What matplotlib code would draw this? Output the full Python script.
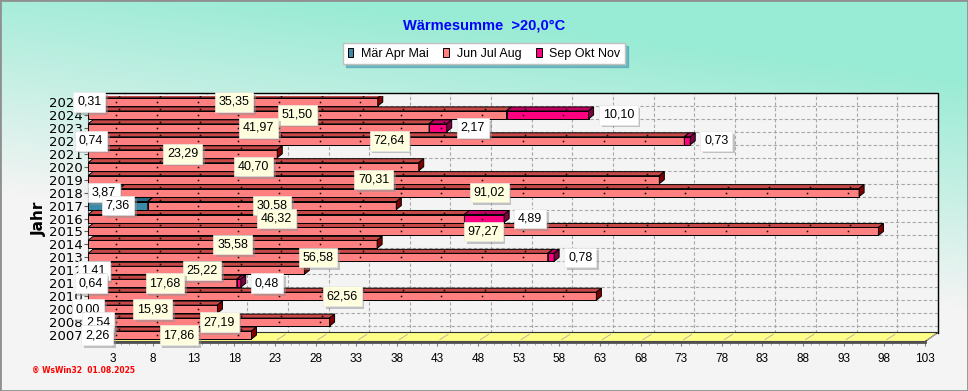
import numpy as np
import matplotlib.pyplot as plt
from matplotlib.patches import Rectangle, Polygon, Patch
from matplotlib import patheffects as pe

years = list(range(2007, 2026))
spring = [2.26, 2.54, 0.00, None, 0.64, 1.41, None, None, None, None,
          7.36, 3.87, None, None, None, 0.74, None, None, 0.31]
summer = [17.86, 27.19, 15.93, 62.56, 17.68, 25.22, 56.58, 35.58, 97.27, 46.32,
          30.58, 91.02, 70.31, 40.70, 23.29, 72.64, 41.97, 51.50, 35.35]
autumn = [None, None, None, None, 0.48, None, 0.78, None, None, 4.89,
          None, None, None, None, None, 0.73, 2.17, 10.10, None]
series_names = ["Mär Apr Mai", "Jun Jul Aug", "Sep Okt Nov"]
xticks = list(range(3, 104, 5))

# front, top, side colours of the 3d bars
cols = [("#3C8AA8", "#2A6480", "#1E4A60"),
        ("#FF8080", "#C84848", "#800000"),
        ("#FF0080", "#C00060", "#800040")]

W, H = 968, 391
fig = plt.figure(figsize=(W / 100, H / 100), dpi=100)

# background gradient
bg = fig.add_axes([0, 0, 1, 1], zorder=-10)
yy, xx = np.mgrid[0:H, 0:W]
t = np.clip((yy + (W / 2 - xx) * 0.12 - 20) / 230, 0, 1)[..., None]
top = np.array([0x98, 0xEB, 0xD4]) / 255
bot = np.array([0xF4, 0xF4, 0xF4]) / 255
bg.imshow(top * (1 - t) + bot * t, aspect="auto", extent=(0, 1, 0, 1))
bg.axis("off")
fig.patches.append(Rectangle((0, 0), 1, 1, transform=fig.transFigure, fill=False,
                             ec="#909090", lw=2))

# main axes (front plane)
x0, x1 = 88, 925
ytop, ybot = 95.5, 341.5
ax = fig.add_axes([x0 / W, 1 - ybot / H, (x1 - x0) / W, (ybot - ytop) / H])
ax.set_xlim(0, 103)
ax.set_ylim(-0.5, 18.5)
ax.patch.set_alpha(0)
xs = 103 / (x1 - x0)          # data units per pixel
ys = 19 / (ybot - ytop)
bdx, bdy = 5 * xs, 4 * ys     # bar depth
wdx, wdy = 13 * xs, 9 * ys    # wall depth
half = 4 * ys

# back wall, left wall and floor
wall = Rectangle((wdx, -0.5 + wdy), 103, 18.5, fc="#F4F4F4", ec="none", zorder=0, clip_on=False)
ax.add_patch(wall)
ax.add_patch(Polygon([(0, -0.5), (wdx, -0.5 + wdy), (wdx, 18 + wdy), (0, 18)],
                     fc="#F4F4F4", ec="none", zorder=0, clip_on=False))
for xt in xticks:
    ax.plot([xt + wdx, xt + wdx], [-0.5 + wdy, 18 + wdy], ls=(0, (3, 2)), color="#A8A8A8",
            lw=0.8, zorder=1, clip_on=False)
for r in range(18):
    ax.plot([wdx, 103 + wdx], [r + wdy, r + wdy], ls=(0, (3, 2)), color="#A8A8A8",
            lw=0.8, zorder=1, clip_on=False)
ax.plot([wdx, 103 + wdx, 103 + wdx], [18 + wdy, 18 + wdy, -0.5 + wdy], color="black",
        lw=1, zorder=1, clip_on=False)
ax.add_patch(Polygon([(0, -0.5), (103, -0.5), (103 + wdx, -0.5 + wdy), (wdx, -0.5 + wdy)],
                     fc="#FFFF88", ec="#303030", lw=0.8, zorder=2, clip_on=False))
for xt in xticks:
    ax.plot([xt + 0.3, xt + wdx - 0.3], [-0.5 + 0.15, -0.5 + wdy - 0.15], color="#B8B8A0",
            lw=0.7, zorder=2, clip_on=False)


def bar3d(left, width, row, c, z):
    b, tp = row - half, row + half
    ax.add_patch(Rectangle((left, b), width, 2 * half, fc=c[0], ec="black", lw=0.7, zorder=z))
    ax.add_patch(Polygon([(left, tp), (left + width, tp), (left + width + bdx, tp + bdy),
                          (left + bdx, tp + bdy)], fc=c[1], ec="black", lw=0.7, zorder=z))
    ax.add_patch(Polygon([(left + width, b), (left + width + bdx, b + bdy),
                          (left + width + bdx, tp + bdy), (left + width, tp)],
                         fc=c[2], ec="black", lw=0.7, zorder=z))
    # grid dots showing through the bar
    inner = [xt + 0.5 for xt in xticks if left + 0.3 < xt + 0.5 < left + width - 0.3]
    if inner:
        ax.plot(inner, [row] * len(inner), ls="none", marker="s", ms=1.1, mew=0,
                color="black", zorder=z)
        ax.plot([v + bdx / 2 for v in inner], [tp + bdy / 2] * len(inner), ls="none",
                marker="s", ms=1.1, mew=0, color="black", zorder=z)


def label(x, row, v, fc, ha="center", dx=0):
    t = ax.annotate(f"{v:.2f}".replace(".", ","), (x, row), xytext=(dx, 0),
                    textcoords="offset pixels", ha=ha, va="center", fontsize=9,
                    family="Liberation Sans", zorder=20,
                    bbox=dict(boxstyle="square,pad=0.3", fc=fc, ec="#E8E8E8", lw=0.5))
    t.get_bbox_patch().set_path_effects(
        [pe.SimplePatchShadow(offset=(2, -2), shadow_rgbFace="#909090", alpha=0.5), pe.Normal()])


for i in range(len(years) - 1, -1, -1):
    z = 5 + (len(years) - i) * 0.1
    left = 0.0
    for k, vals in enumerate([spring, summer, autumn]):
        v = vals[i]
        if v is None:
            continue
        if v > 0:
            bar3d(left, v, i, cols[k], z)
        left += v
    s = spring[i] or 0
    if spring[i] is not None:
        label(s / 2, i, spring[i], "white")
    label(s + summer[i] / 2, i, summer[i], "#FFFFE0")
    if autumn[i] is not None:
        label(left, i, autumn[i], "white", ha="left", dx=14)

ax.set_yticks(range(len(years)))
ax.set_yticklabels([str(y) for y in years], fontsize=9.5)
ax.set_xticks(xticks)
ax.set_xticklabels([str(x) for x in xticks], fontsize=8.5, family="Liberation Sans")
ax.set_xticks(range(0, 104), minor=True)
ax.tick_params(axis="x", which="major", length=3, pad=5, color="#808080")
ax.tick_params(axis="x", which="minor", length=2, color="#A0A0A0")
ax.tick_params(axis="y", length=3, pad=1, color="#606060")
for sp in ["top", "right"]:
    ax.spines[sp].set_visible(False)
ax.spines["left"].set_color("#707070")
ax.spines["left"].set_linestyle((0, (1, 1)))
ax.spines["bottom"].set_color("#505050")
ax.spines["bottom"].set_linewidth(2)
ax.spines["bottom"].set_zorder(3)

fig.text(39 / W, 1 - 219 / H, "Jahr", rotation=90, ha="center", va="center",
         fontsize=11, fontweight="bold")
fig.text(484 / W, 1 - 25 / H, "Wärmesumme  >20,0°C", ha="center", va="center",
         fontsize=10.5, fontweight="bold", color="#0000FF", family="Liberation Sans")
handles = [Patch(fc=c[0], ec="black", lw=0.7) for c in cols]
leg = fig.legend(handles, series_names, loc="upper center", bbox_to_anchor=(484 / W, 1 - 37 / H),
                 ncol=3, prop={"family": "Liberation Sans", "size": 9},
                 handlelength=0.45, handleheight=0.75, handletextpad=0.6, columnspacing=1.2,
                 borderpad=0.35, fancybox=False, shadow={"color": "#4A9AB0", "alpha": 0.6},
                 edgecolor="#C0C0C0", framealpha=1)
fig.text(32 / W, 1 - 370 / H, "® WsWin32  01.08.2025", ha="left", va="center",
         fontsize=5.5, fontweight="bold", color="red")

fig.savefig("out.png", dpi=100)
